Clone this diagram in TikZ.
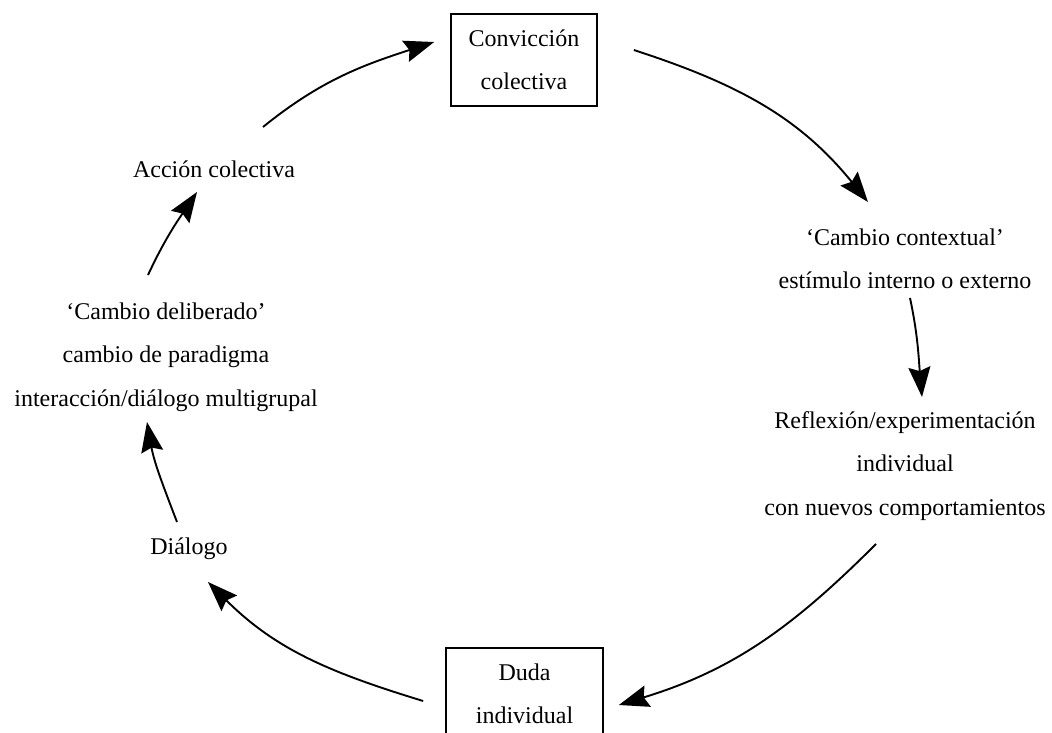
\documentclass[tikz,border=0pt]{standalone}
\usepackage{fontspec}
\setmainfont{Liberation Serif}
\usetikzlibrary{arrows.meta,calc}
\begin{document}
\begin{tikzpicture}[x=1pt,y=1pt,
  every node/.style={font=\fontsize{24}{43.5}\selectfont, inner sep=0pt, align=center},
  txt/.style={anchor=base},
  stage/.style={draw, line width=1.7pt, minimum height=92pt},
  arr/.style={line width=1.9pt, -{Stealth[length=30pt,width=22pt,inset=4pt]}}]
\useasboundingbox (0,0) rectangle (1052,-733);
\clip (0,0) rectangle (1052,-733);

% the two boxed stages
\node[stage, minimum width=146pt] (conv) at (524,-60) {Convicción\\colectiva};
\node[stage, minimum width=157pt] (duda) at (524.5,-694) {Duda\\individual};

% the intermediate steps of the cycle (base = bottom of the text block)
\node[txt] (ctx) at (905,-288.5) {‘Cambio contextual’\\estímulo interno o externo};
\node[txt] (refl) at (905,-515) {Reflexión/experimentación\\individual\\con nuevos comportamientos};
\node[txt] (dial) at (189,-554) {Diálogo};
\node[txt] (delib) at (166,-406) {‘Cambio deliberado’\\cambio de paradigma\\interacción/diálogo multigrupal};
\node[txt] (acc) at (214,-177) {Acción colectiva};

% clockwise cycle of arrows
\draw[arr] ($(conv.east)+(36,10)$) to[out=-18,in=129] ($(ctx.base)+(-37,86.5)$);
\draw[arr] ($(ctx.base)+(5,-9.5)$) to[out=-78,in=95] ($(refl.base)+(17,118)$);
\draw[arr] ($(refl.base)+(-29,-29)$) to[out=-135,in=17] ($(duda.east)+(15,-11)$);
\draw[arr] ($(duda.west)+(-22,-7)$) to[out=163,in=-45] ($(dial.base)+(19,-28)$);
\draw[arr] ($(dial.base)+(-12,32)$) to[out=111,in=-80] ($(delib.base)+(-19,-16)$);
\draw[arr] ($(delib.base)+(-18,131)$) to[out=65,in=236] ($(acc.base)+(-17,-15)$);
\draw[arr] ($(acc.base)+(49,50)$) to[out=39,in=198] ($(conv.west)+(-16,18)$);
\end{tikzpicture}
\end{document}
